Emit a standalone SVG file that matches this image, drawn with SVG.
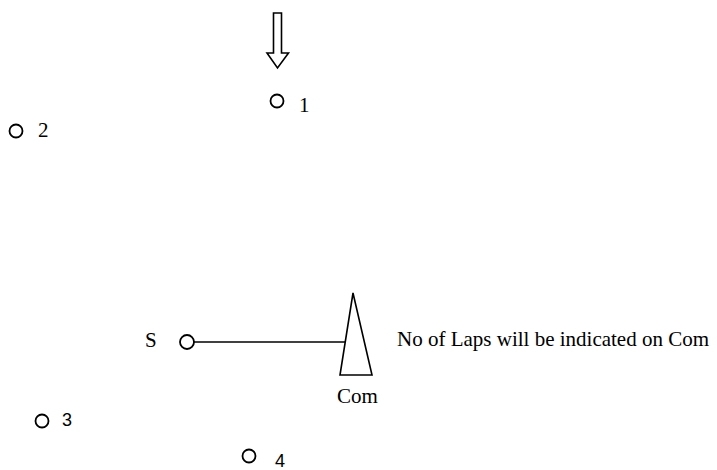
<svg xmlns="http://www.w3.org/2000/svg" width="717" height="470" viewBox="0 0 717 470">
<style>
.pt{fill:#fff;stroke:#000;stroke-width:1.8}
.serif{font-family:"Liberation Serif","Times New Roman",serif;font-size:21px;fill:#000}
.sans{font-family:"Liberation Sans",Arial,sans-serif;font-size:18px;fill:#000}
.ln{fill:none;stroke:#000;stroke-width:1.6}
</style>
<rect width="717" height="470" fill="#fff"/>
<g id="arrow">
<path class="ln" d="M273.5,13 L273.5,53 L267,53 L277.5,68 L288.5,53 L281.5,53 L281.5,13 Z"/>
</g>
<g id="node1">
<circle class="pt" cx="277" cy="101" r="6.5"/>
<text class="serif" x="299" y="112">1</text>
</g>
<g id="node2">
<circle class="pt" cx="16" cy="131" r="6.5"/>
<text class="serif" x="38" y="137">2</text>
</g>
<g id="node3">
<circle class="pt" cx="42" cy="421" r="6.5"/>
<text class="sans" x="62" y="426">3</text>
</g>
<g id="node4">
<circle class="pt" cx="249" cy="456" r="6.5"/>
<text class="sans" x="275" y="467">4</text>
</g>
<g id="nodeS">
<text class="serif" x="145" y="347">S</text>
<circle class="pt" cx="187" cy="342" r="7"/>
</g>
<g id="com">
<polygon class="ln" points="353,293 340,375 372,375"/>
<text class="serif" x="337" y="403">Com</text>
</g>
<g id="connectors">
<line class="ln" x1="194" y1="342" x2="345" y2="342"/>
</g>
<g id="note">
<text class="serif" x="397" y="346" font-size="22.6">No of Laps will be indicated on Com</text>
</g>
</svg>
